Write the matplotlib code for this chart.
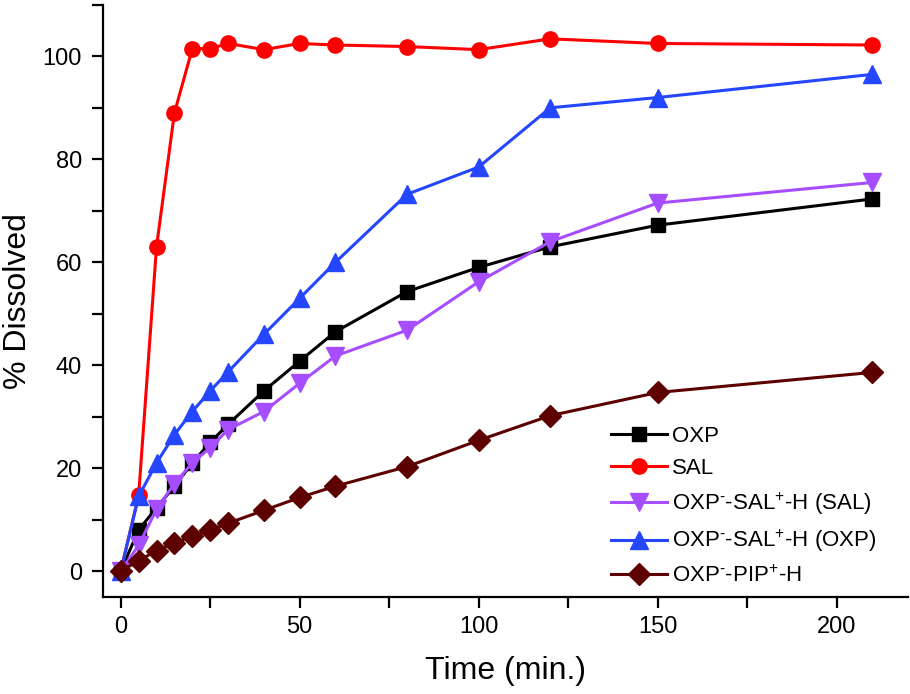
import numpy as np
import matplotlib
matplotlib.use('Agg')
import matplotlib.pyplot as plt
from matplotlib.ticker import MultipleLocator

plt.rcParams['font.family'] = ['Liberation Sans', 'DejaVu Sans']
plt.rcParams['mathtext.fontset'] = 'custom'
plt.rcParams['mathtext.rm'] = 'Liberation Sans'
plt.rcParams['mathtext.it'] = 'Liberation Sans'

time = [0, 5, 10, 15, 20, 25, 30, 40, 50, 60, 80, 100, 120, 150, 210]

oxp = [0, 8, 12.3, 16.5, 21, 25, 28.5, 35, 40.8, 46.5, 54.3, 59, 63, 67.2, 72.3]
sal = [0, 14.7, 63, 89, 101.5, 101.5, 102.5, 101.3, 102.5, 102.2, 101.9, 101.3, 103.4, 102.5, 102.2]
salt_sal = [0, 5, 12, 17, 21, 24, 27.5, 31, 36.5, 41.8, 46.8, 56.2, 64, 71.5, 75.5]
salt_oxp = [0, 14.5, 21, 26.5, 31, 35, 38.7, 46, 53, 60, 73.2, 78.5, 90, 92, 96.5]
pip = [0, 2, 4, 5.5, 6.8, 8, 9.3, 11.8, 14.3, 16.5, 20.3, 25.4, 30.2, 34.7, 38.6]

labels = ['OXP', 'SAL', r'OXP$^{\text{-}}$-SAL$^{+}$-H (SAL)',
          r'OXP$^{\text{-}}$-SAL$^{+}$-H (OXP)', r'OXP$^{\text{-}}$-PIP$^{+}$-H']

fig = plt.figure(figsize=(9.1, 6.94), dpi=100)
ax = fig.add_axes([0.113, 0.140, 0.885, 0.853])

lw = 2.2
ax.plot(time, oxp, '-s', color='black', lw=lw, ms=10, label=labels[0])
ax.plot(time, sal, '-o', color='#ff0000', lw=lw, ms=11, label=labels[1])
ax.plot(time, salt_sal, '-v', color='#a64dff', lw=lw, ms=13, label=labels[2])
ax.plot(time, salt_oxp, '-^', color='#2446ff', lw=lw, ms=13, label=labels[3])
ax.plot(time, pip, '-D', color='#5c0000', lw=lw, ms=11, label=labels[4])

ax.set_xlim(-5, 220)
ax.set_ylim(-5, 110)
ax.xaxis.set_major_locator(MultipleLocator(50))
ax.xaxis.set_minor_locator(MultipleLocator(25))
ax.yaxis.set_major_locator(MultipleLocator(20))
ax.yaxis.set_minor_locator(MultipleLocator(10))
ax.spines['top'].set_visible(False)
ax.spines['right'].set_visible(False)
for s in ['left', 'bottom']:
    ax.spines[s].set_linewidth(1.6)
ax.tick_params(which='both', direction='out', width=1.6, length=8, labelsize=17)
ax.tick_params(axis='x', which='major', pad=6)
ax.tick_params(axis='y', which='major', pad=7)

ax.set_xlabel('Time (min.)', fontsize=23, labelpad=13)
ax.set_ylabel('% Dissolved', fontsize=23, labelpad=7)

ax.legend(loc='upper left', bbox_to_anchor=(0.662, 0.399), bbox_transform=fig.transFigure,
          frameon=False, fontsize=16, handlelength=2.5, labelspacing=0.5,
          handletextpad=0.25, borderaxespad=0)

plt.savefig('out.png', dpi=100)
